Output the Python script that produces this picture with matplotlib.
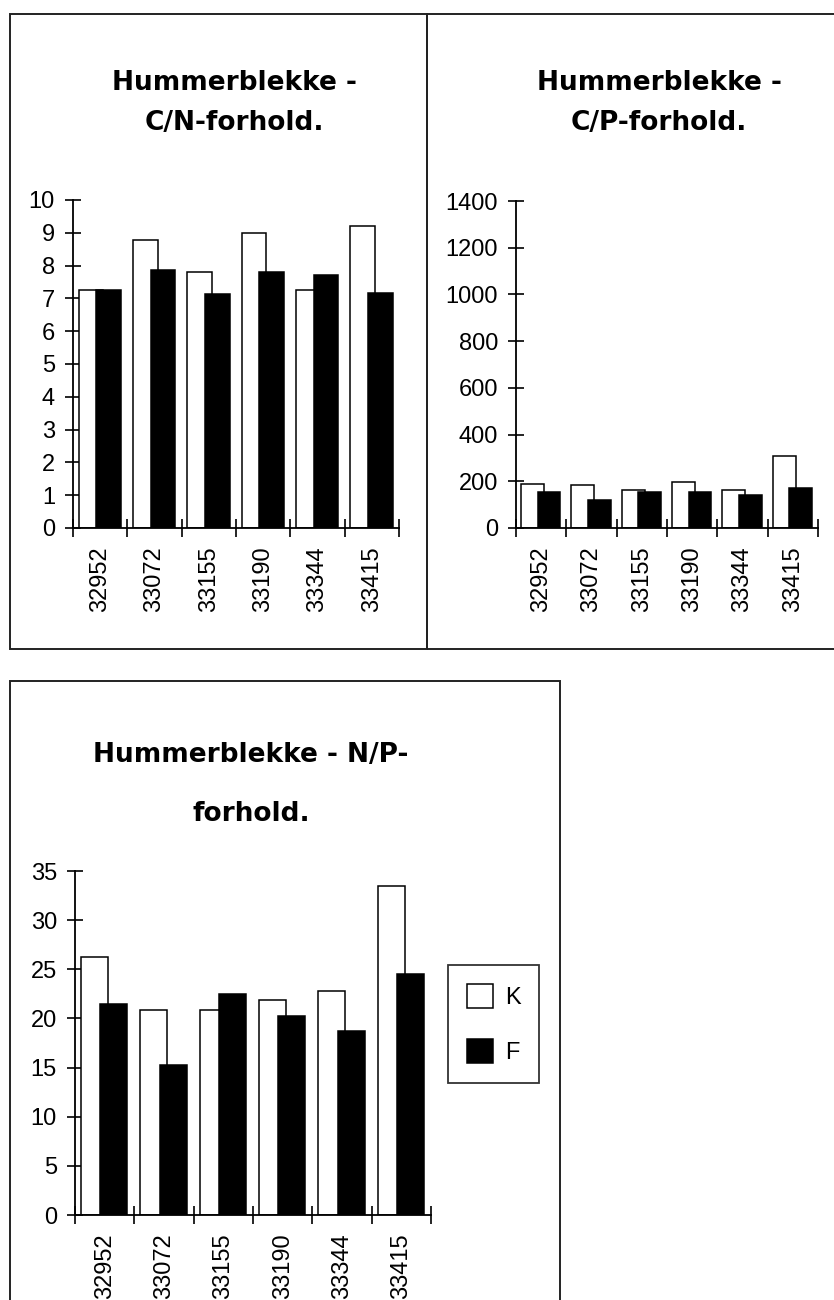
import matplotlib
matplotlib.use("Agg")
import matplotlib.pyplot as plt
from matplotlib.patches import Rectangle
import numpy as np

plt.rcParams['font.family'] = ['Liberation Sans', 'DejaVu Sans']

categories = ["32952", "33072", "33155", "33190", "33344", "33415"]
series_names = ["K", "F"]

cn_K = [7.25, 8.77, 7.82, 9.0, 7.27, 9.22]
cn_F = [7.26, 7.86, 7.14, 7.79, 7.72, 7.15]

cp_K = [188, 182, 161, 195, 161, 307]
cp_F = [155, 120, 156, 155, 141, 171]

np_K = [26.2, 20.85, 20.9, 21.85, 22.8, 33.5]
np_F = [21.5, 15.25, 22.45, 20.25, 18.7, 24.5]

titles = [["Hummerblekke -", "C/N-forhold."],
          ["Hummerblekke -", "C/P-forhold."],
          ["Hummerblekke - N/P-", "forhold."]]

W, H = 834, 1300
fig = plt.figure(figsize=(W / 100, H / 100), dpi=100)


def fx(x):
    return x / W


def fy(y):
    return 1 - y / H


def box(x0, y0, x1, y1):
    fig.patches.append(Rectangle((fx(x0), fy(y1)), fx(x1) - fx(x0), fy(y0) - fy(y1),
                                 transform=fig.transFigure, fill=False,
                                 edgecolor="#222222", linewidth=1.4))


box(10, 14, 427, 649)
box(427, 14, 845, 649)
box(10, 681, 560, 1320)


def make_chart(x0, x1, ytop, ybot, kvals, fvals, ymax, ystep, title, tx, tys):
    ax = fig.add_axes([fx(x0), fy(ybot), fx(x1) - fx(x0), fy(ytop) - fy(ybot)])
    n = len(categories)
    idx = np.arange(n)
    w = 0.455
    bk = ax.bar(idx + 0.33, kvals, width=w, color="white", edgecolor="black",
                linewidth=1.1, zorder=2)
    bf = ax.bar(idx + 0.655, fvals, width=w, color="black", edgecolor="black",
                linewidth=1.1, zorder=3)
    ax.set_xlim(0, n)
    ax.set_ylim(0, ymax)
    for s in ["top", "right"]:
        ax.spines[s].set_visible(False)
    ax.spines["left"].set_linewidth(1.3)
    ax.spines["bottom"].set_linewidth(1.3)
    yt = np.arange(0, ymax + ystep / 2, ystep)
    ax.set_yticks(yt)
    ax.set_yticklabels([f"{int(v)}" for v in yt])
    ax.set_xticks(idx + 0.5)
    ax.set_xticklabels(categories, rotation=90, fontsize=17,
                       family=['Liberation Sans Narrow', 'Liberation Sans'])
    ax.set_xticks(np.arange(0, n + 1), minor=True)
    ax.tick_params(axis="x", which="major", length=0, pad=13)
    ax.tick_params(axis="x", which="minor", direction="inout", length=13, width=1.2)
    ax.tick_params(axis="y", direction="inout", length=12, width=1.2, labelsize=17, pad=7)
    ax.patch.set_alpha(0)
    for line, ty in zip(title, tys):
        fig.text(fx(tx), fy(ty), line, ha="center", va="baseline", fontsize=19,
                 fontweight="bold", family="DejaVu Sans")
    return ax, bk, bf


make_chart(73, 399, 200, 528, cn_K, cn_F, 10, 1, titles[0], 234, (90, 130))
make_chart(516, 818, 201, 528, cp_K, cp_F, 1400, 200, titles[1], 659, (90, 130))
ax3, bk, bf = make_chart(75, 431, 871, 1215, np_K, np_F, 35, 5, titles[2], 251, (762, 821))

leg = fig.legend([bk, bf], series_names, loc="upper left",
                 bbox_to_anchor=(fx(448), fy(965)), fontsize=17,
                 frameon=True, fancybox=False, edgecolor="black",
                 handlelength=1.1, handleheight=1.2, handletextpad=0.5,
                 labelspacing=1.27, borderpad=0.8, borderaxespad=0)
leg.get_frame().set_linewidth(1.3)

fig.savefig("out.png", dpi=100)
